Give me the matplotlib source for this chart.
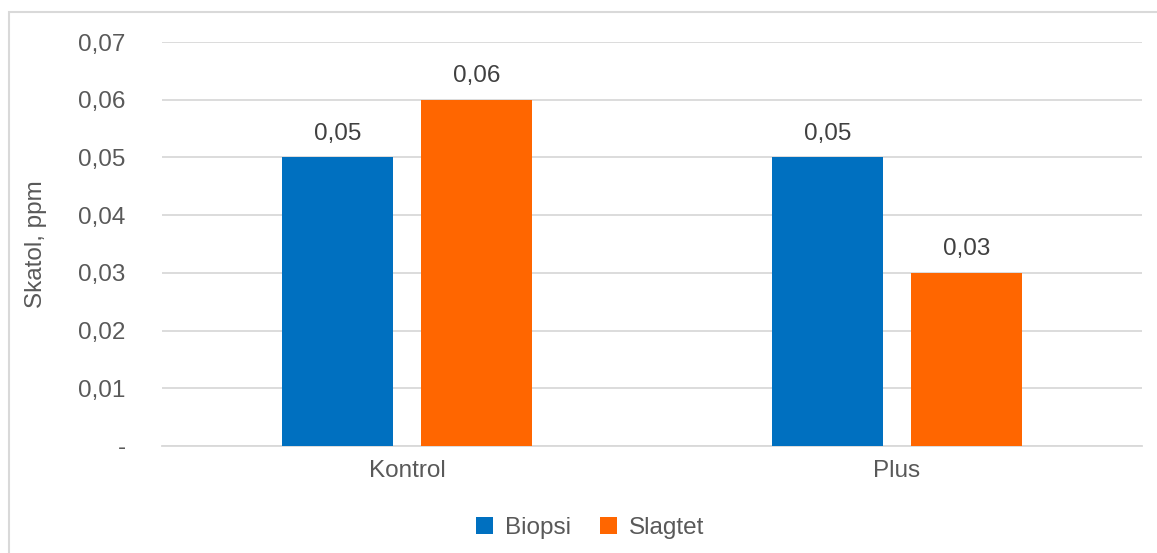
import matplotlib.pyplot as plt
import numpy as np
from matplotlib.patches import Rectangle

# ── Data ────────────────────────────────────────────────────────────────────
categories = ["Kontrol", "Plus"]
biopsi = [0.05, 0.05]
slagtet = [0.06, 0.03]
y_ticks = [0.0, 0.01, 0.02, 0.03, 0.04, 0.05, 0.06, 0.07]
y_tick_labels = ["-", "0,01", "0,02", "0,03", "0,04", "0,05", "0,06", "0,07"]

plt.rcParams.update({
    "font.family": ["Liberation Sans", "DejaVu Sans"],
    "font.size": 17.5,
    "text.color": "#595959",
})

fig = plt.figure(figsize=(11.57, 5.53), dpi=100)
ax = fig.add_axes([0.140, 0.1935, 0.847, 0.7305])

x = np.arange(len(categories))
width = 0.227
offset = 0.142
b1 = ax.bar(x - offset, biopsi, width, color="#0070C0", label="Biopsi", zorder=3)
b2 = ax.bar(x + offset, slagtet, width, color="#FF6600", label="Slagtet", zorder=3)

for bars in (b1, b2):
    for rect in bars:
        h = rect.get_height()
        ax.annotate(f"{h:.2f}".replace(".", ","),
                    (rect.get_x() + rect.get_width() / 2, h),
                    xytext=(0, 9), textcoords="offset points",
                    ha="center", va="bottom", color="#404040", fontsize=17.5)

ax.set_xlim(-0.5, 1.5)
ax.set_ylim(0, 0.07)
ax.set_yticks(y_ticks)
ax.set_yticklabels(y_tick_labels)
ax.set_xticks(x)
ax.set_xticklabels(categories)
ax.tick_params(axis="both", length=0, colors="#595959", labelsize=17.5)
ax.tick_params(axis="y", pad=26)
ax.tick_params(axis="x", pad=10)
ax.yaxis.grid(True, color="#D9D9D9", linewidth=1.3, zorder=0)
for side in ("top", "right", "left"):
    ax.spines[side].set_visible(False)
ax.spines["bottom"].set_color("#D9D9D9")
ax.spines["bottom"].set_linewidth(1.3)
ax.set_ylabel("Skatol, ppm", color="#595959", fontsize=17.5, labelpad=23)

fig.legend(handles=[b1, b2], loc="center", bbox_to_anchor=(0.51, 0.045),
           ncol=2, frameon=False, handlelength=0.7, handleheight=0.7,
           handletextpad=0.5, columnspacing=1.2, fontsize=17.5,
           labelcolor="#595959")

# chart frame (cut off at right and bottom in the reference)
fig.patches.append(Rectangle((9 / 1157, -0.05), 1.1, 1 - 12 / 553 + 0.05,
                             transform=fig.transFigure, fill=False,
                             edgecolor="#D9D9D9", linewidth=1.5))

fig.savefig("out.png", dpi=100)
